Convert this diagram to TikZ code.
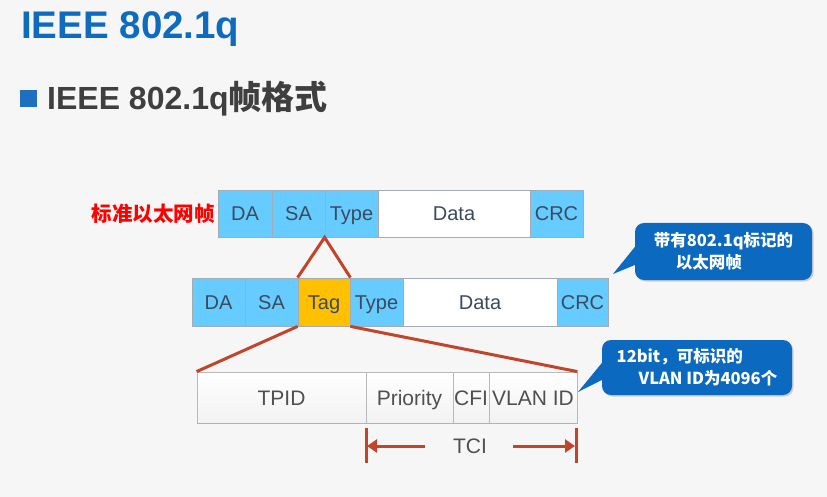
\documentclass[tikz,border=0pt]{standalone}
\usepackage{fontspec}
\setmainfont{Liberation Sans}
\newfontfamily\cjk{Noto Sans CJK SC}
\usetikzlibrary{arrows.meta,shadows}
\definecolor{titleblue}{HTML}{0E6CBF}
\definecolor{bulletblue}{HTML}{1F6FC0}
\definecolor{subgray}{HTML}{3F3F3F}
\definecolor{cellblue}{HTML}{66CCFF}
\definecolor{tagorange}{HTML}{FFC000}
\definecolor{cellborder}{HTML}{A3ABB3}
\definecolor{celltext}{HTML}{3C4A5E}
\definecolor{linered}{HTML}{C0452A}
\definecolor{callblue}{HTML}{0B6ABF}
\definecolor{tpidtext}{HTML}{505050}
\definecolor{bg}{HTML}{F6F6F6}
\tikzset{
  cell/.style={draw=cellborder, line width=0.8pt, inner sep=0pt, minimum height=47pt,
    text height=14.3pt, text depth=0pt,
    text=celltext, font=\fontsize{20}{20}\selectfont},
  bluecell/.style={cell, fill=cellblue},
  whitecell/.style={cell, fill=white},
  tagcell/.style={cell, fill=tagorange},
  tcell/.style={draw=gray!55, line width=0.8pt, inner sep=0pt, minimum height=51pt,
    text height=15pt, text depth=0pt,
    top color=white, bottom color=gray!10, text=tpidtext,
    font=\fontsize{21}{21}\selectfont},
  redline/.style={draw=linered, line width=3pt},
  callout/.style={fill=callblue, rounded corners=9pt, inner sep=0pt,
    text=white, font=\cjk\bfseries\fontsize{16.5}{22}\selectfont, align=left,
    drop shadow={shadow xshift=1.5pt, shadow yshift=-1.5pt, fill=black!35}},
}
\begin{document}
\begin{tikzpicture}[x=1pt,y=-1pt]
\fill[bg] (0,0) rectangle (827,497);
\useasboundingbox (0,0) rectangle (827,497);

% titles
\node[anchor=base west, inner sep=0pt, text=titleblue, font=\bfseries\fontsize{38.5}{38.5}\selectfont] (title) at (21,39) {IEEE 802.1q};
\fill[bulletblue] (20,90) rectangle (37,107);
\node[anchor=base west, inner sep=0pt, text=subgray, font=\bfseries\fontsize{32}{32}\selectfont] (sub) at (47,110) {IEEE 802.1q{\cjk\fontsize{33}{33}\selectfont 帧格式}};

% row 1
\node[bluecell, minimum width=54pt] (a1) at (245,213.5) {DA};
\node[bluecell, minimum width=53pt] (a2) at (298.5,213.5) {SA};
\node[bluecell, minimum width=53pt] (a3) at (351.5,213.5) {Type};
\node[whitecell, minimum width=152pt] (a4) at (454,213.5) {Data};
\node[bluecell, minimum width=53pt] (a5) at (556.5,213.5) {CRC};
\node[anchor=east, inner sep=0pt, text=red, font=\cjk\bfseries\fontsize{20.5}{20.5}\selectfont] (lbl) at (215,214) {标准以太网帧};

% row 2
\node[bluecell, minimum width=53pt, minimum height=48pt] (b1) at (218.5,302) {DA};
\node[bluecell, minimum width=53pt, minimum height=48pt] (b2) at (271.5,302) {SA};
\node[tagcell, minimum width=52pt, minimum height=48pt] (b3) at (324,302) {Tag};
\node[bluecell, minimum width=53pt, minimum height=48pt] (b4) at (376.5,302) {Type};
\node[whitecell, minimum width=154pt, minimum height=48pt] (b5) at (480,302) {Data};
\node[bluecell, minimum width=51pt, minimum height=48pt] (b6) at (582.5,302) {CRC};

% row 3
\node[tcell, minimum width=169pt] (c1) at (281.5,397.5) {TPID};
\node[tcell, minimum width=87pt] (c2) at (409.5,397.5) {Priority};
\node[tcell, minimum width=36pt] (c3) at (471,397.5) {CFI};
\node[tcell, minimum width=88pt] (c4) at (533,397.5) {VLAN ID};
\draw[gray!60, line width=1.6pt] (c1.south west) -- (c4.south east);

% connecting lines
\draw[redline, line join=miter] (b3.north west) -- (a3.south west) -- (b3.north east);
\draw[redline] (b3.south west) -- (c1.north west);
\draw[redline] (b3.south east) -- (c4.north east);

% TCI
\node[text=tpidtext, inner sep=0pt, text height=15pt, text depth=0pt, font=\fontsize{21}{21}\selectfont] (tci) at (470,446) {TCI};
\coordinate (l1) at (366,428);
\coordinate (l2) at (366,463);
\coordinate (r1) at (576,428);
\coordinate (r2) at (576,463);
\coordinate (la) at (425,446);
\coordinate (lt) at (367,446);
\coordinate (ra) at (513,446);
\coordinate (rt) at (575,446);
\draw[redline] (l1) -- (l2);
\draw[redline] (r1) -- (r2);
\draw[redline, -{Triangle[length=10pt,width=13pt]}] (la) -- (lt);
\draw[redline, -{Triangle[length=10pt,width=13pt]}] (ra) -- (rt);

% callouts
\node[callout, minimum width=177pt, minimum height=57pt] (k1) at (723.5,251.5)
  {带有802.1q标记的\\\hspace*{22pt}以太网帧};
\coordinate (k1t) at (613,274);
\fill[callblue] ([yshift=4.5pt]k1.west) -- (k1t) -- ([yshift=-13.5pt]k1.west) -- cycle;

\node[callout, minimum width=190pt, minimum height=55pt] (k2) at (697,367.5)
  {12bit，可标识的\\\hspace*{22pt}VLAN ID为4096个};
\coordinate (k2t) at (578,392);
\fill[callblue] ([yshift=4.5pt]k2.west) -- (k2t) -- ([yshift=-12.5pt]k2.west) -- cycle;
\end{tikzpicture}
\end{document}
